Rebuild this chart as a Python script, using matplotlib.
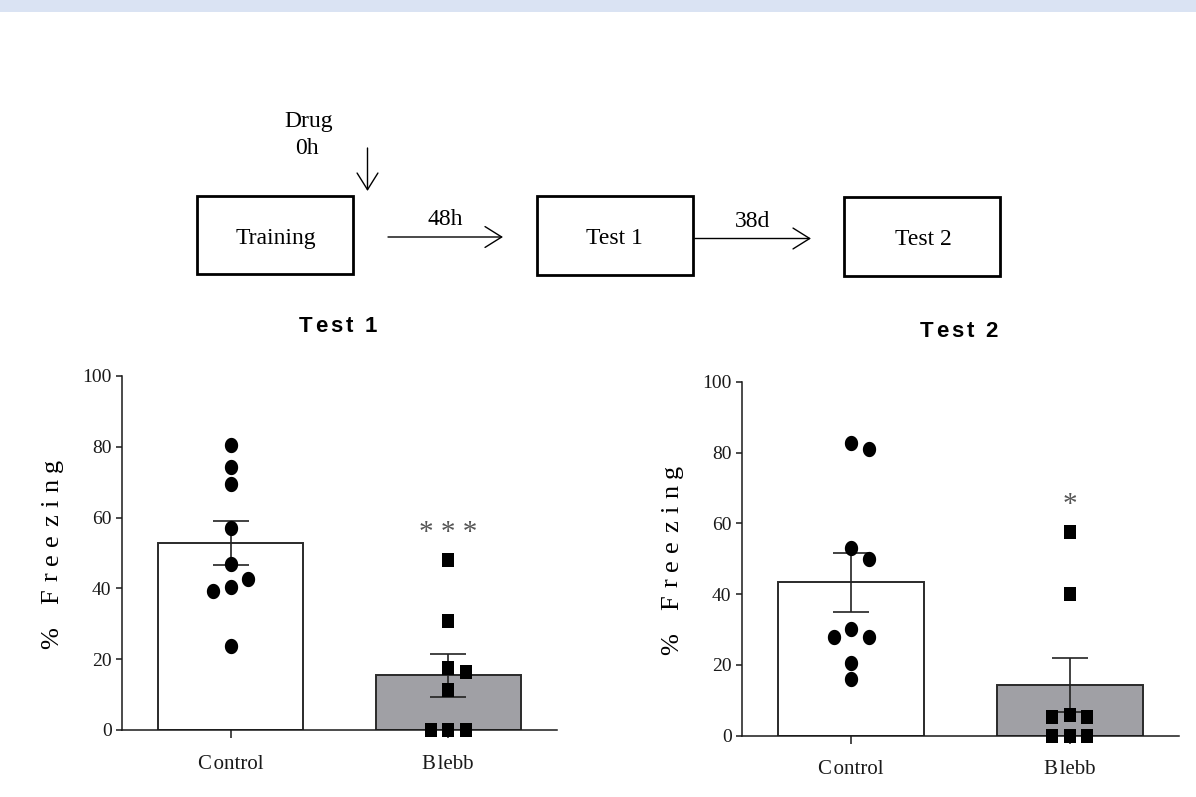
import numpy as np
import matplotlib
matplotlib.use("Agg")
import matplotlib.pyplot as plt
from matplotlib.patches import Rectangle, FancyArrowPatch, ArrowStyle
from matplotlib.path import Path
from matplotlib.transforms import IdentityTransform

# ---------------- data ----------------
categories = ["Control", "Blebb"]
tick_labels = ["C\u200aontrol", "B\u200alebb"]
y_ticks = [0, 20, 40, 60, 80, 100]

test1_control = [80.5, 74.2, 69.4, 57.1, 46.8, 42.6, 40.5, 39.4, 23.8]
test1_blebb = [48.0, 30.9, 17.6, 16.3, 11.3, 0.0, 0.0, 0.0]
test1_means = [52.8, 15.4]
test1_sem = [6.2, 6.0]

test2_control = [82.8, 81.1, 53.0, 49.8, 30.0, 28.0, 28.0, 20.5, 16.0]
test2_blebb = [57.5, 40.0, 5.9, 5.2, 5.2, 0.0, 0.0, 0.0]
test2_means = [43.3, 14.3]
test2_sem = [8.4, 7.7]

significance = ["***", "*"]
panel_titles = ["Test 1", "Test 2"]

# ---------------- style ----------------
plt.rcParams["font.family"] = ["Liberation Serif", "DejaVu Serif"]
W, H = 1196, 797
fig = plt.figure(figsize=(W / 100, H / 100), dpi=100)
fig.patch.set_facecolor("white")
renderer = fig.canvas.get_renderer()

BAR_COLORS = ["white", "#a0a0a5"]
EDGE = "#2a2a2a"

# markers (slightly tall, as in the reference)
t = np.linspace(0, 2 * np.pi, 60)
ellipse = Path(np.c_[0.87 * np.cos(t), np.sin(t)], closed=True)
rect = Path([(-0.43, -0.5), (0.43, -0.5), (0.43, 0.5), (-0.43, 0.5), (-0.43, -0.5)], closed=True)


def swarm_offsets(values, px_per_x, px_per_y, diam_px, step_px):
    n = len(values)
    order = sorted(range(n), key=lambda i: -values[i])
    placed = []
    res = [0.0] * n
    seq = [0, 1, -1, 2, -2, 3, -3, 4, -4]
    for i in order:
        y = values[i] * px_per_y
        x = 0.0
        for k in seq:
            x = k * step_px
            if all((x - px) ** 2 + (y - py) ** 2 >= diam_px ** 2 for px, py in placed):
                break
        placed.append((x, y))
        res[i] = x / px_per_x
    return res


def tracked(s, x, y, gap, rotation=0, space=6, **kw):
    """draw text s with extra letter spacing; x,y in image pixels (y from top).
    rotation 0: x is centre, y is baseline. rotation 90: x is baseline, y is centre."""
    ws = []
    for ch in s:
        if ch == " ":
            ws.append(space)
            continue
        tt = fig.text(0, 0, ch, **kw)
        ws.append(tt.get_window_extent(renderer).width)
        tt.remove()
    total = sum(ws) + gap * (len(s) - 1)
    cum = 0.0
    for ch, w in zip(s, ws):
        if ch != " ":
            if rotation == 0:
                fig.text(x - total / 2 + cum, H - y, ch, transform=IdentityTransform(),
                         ha="left", va="baseline", **kw)
            else:
                fig.text(x, (H - y) - total / 2 + cum, ch, transform=IdentityTransform(),
                         rotation=90, rotation_mode="anchor", ha="left", va="baseline", **kw)
        cum += w + gap


# ---------------- diagram / background overlay ----------------
bg = fig.add_axes([0, 0, 1, 1])
bg.set_xlim(0, W)
bg.set_ylim(H, 0)
bg.axis("off")
bg.add_patch(Rectangle((0, 0), W, 11.5, facecolor="#dae3f3", edgecolor="none"))

boxes = [((197, 196), 156, 78, "Training", 275.5, 244),
         ((537, 196), 156, 79, "Test 1", 614.7, 244),
         ((844, 197), 156, 79, "Test 2", 923.3, 245)]
for (x0, y0), bw, bh, label, tx, ty in boxes:
    bg.add_patch(Rectangle((x0, y0), bw, bh, facecolor="white", edgecolor="black", linewidth=2.0))
    bg.text(tx, ty, label, ha="center", va="baseline", fontsize=17)

astyle = ArrowStyle("->", head_length=12, head_width=7.5)
for (xa, ya), (xb, yb) in [((388, 237), (503, 237)), ((695, 238.5), (811, 238.5)), ((367.5, 148), (367.5, 191))]:
    bg.add_patch(FancyArrowPatch((xa, ya), (xb, yb), arrowstyle=astyle, mutation_scale=1,
                                 shrinkA=0, shrinkB=0, color="black", linewidth=1.0))
bg.text(445, 225, "48h", ha="center", va="baseline", fontsize=17)
bg.text(752.5, 226.5, "38d", ha="center", va="baseline", fontsize=17)
bg.text(309, 127, "Drug", ha="center", va="baseline", fontsize=17)
bg.text(307, 154, "0h", ha="center", va="baseline", fontsize=17)

# ---------------- bar charts ----------------
panels = [
    dict(rect_px=(122, 376, 557, 730), ctrl=test1_control, bleb=test1_blebb,
         means=test1_means, sem=test1_sem, sig=significance[0], title=panel_titles[0],
         title_xy=(337.5, 331.7), ylab_xy=(58, 560)),
    dict(rect_px=(742, 382, 1179, 735.5), ctrl=test2_control, bleb=test2_blebb,
         means=test2_means, sem=test2_sem, sig=significance[1], title=panel_titles[1],
         title_xy=(958.5, 337.3), ylab_xy=(678, 566)),
]

for p in panels:
    x0, y0, x1, y1 = p["rect_px"]
    ax = fig.add_axes([x0 / W, 1 - y1 / H, (x1 - x0) / W, (y1 - y0) / H])
    ax.set_xlim(-0.5, 1.5)
    ax.set_ylim(0, 100)
    px_x = (x1 - x0) / 2.0
    px_y = (y1 - y0) / 100.0
    xs = np.arange(len(categories))
    ax.bar(xs, p["means"], width=0.667, color=BAR_COLORS, edgecolor=EDGE, linewidth=1.4, zorder=1)
    ax.errorbar(xs, p["means"], yerr=p["sem"], fmt="none", ecolor="#222222", elinewidth=1.2,
                capsize=13, capthick=1.2, zorder=2)
    for xi, vals, mk, ms in [(0, p["ctrl"], ellipse, 11.0), (1, p["bleb"], rect, 10.3)]:
        offs = swarm_offsets(vals, px_x, px_y, 15.5, 17.4)
        ax.plot(xi + np.array(offs), vals, linestyle="none", marker=mk, markersize=ms,
                color="black", markeredgewidth=0, zorder=3, clip_on=False)
    ax.annotate(" ".join(p["sig"]), xy=(1, max(p["bleb"])), xytext=(0, 14.5),
                textcoords="offset points", ha="center", va="baseline", fontsize=21, color="#555555")

    for s in ["top", "right"]:
        ax.spines[s].set_visible(False)
    for s in ["left", "bottom"]:
        ax.spines[s].set_linewidth(1.1)
        ax.spines[s].set_color("#1a1a1a")
    ax.set_yticks(y_ticks)
    ax.set_yticklabels([str(v) for v in y_ticks])
    ax.set_xticks(xs)
    ax.set_xticklabels(tick_labels)
    ax.tick_params(axis="y", direction="out", length=4.3, width=1.1, pad=3.2, labelsize=14, colors="#1a1a1a")
    ax.tick_params(axis="x", direction="out", length=5.8, width=1.1, pad=12, labelsize=15, colors="#1a1a1a")

    # panel title (bold sans, letter-spaced)
    tracked(p["title"], p["title_xy"][0], p["title_xy"][1], 3, space=5,
            fontsize=16, fontweight="bold", family=["Liberation Sans", "DejaVu Sans"])
    # y label (letter-spaced, rotated)
    bx, cy = p["ylab_xy"]
    tracked("%", bx, cy + 78, 0, rotation=90, fontsize=19)
    tracked("Freezing", bx, cy - 29, 7.5, rotation=90, fontsize=19)

fig.savefig("out.png", dpi=100)
